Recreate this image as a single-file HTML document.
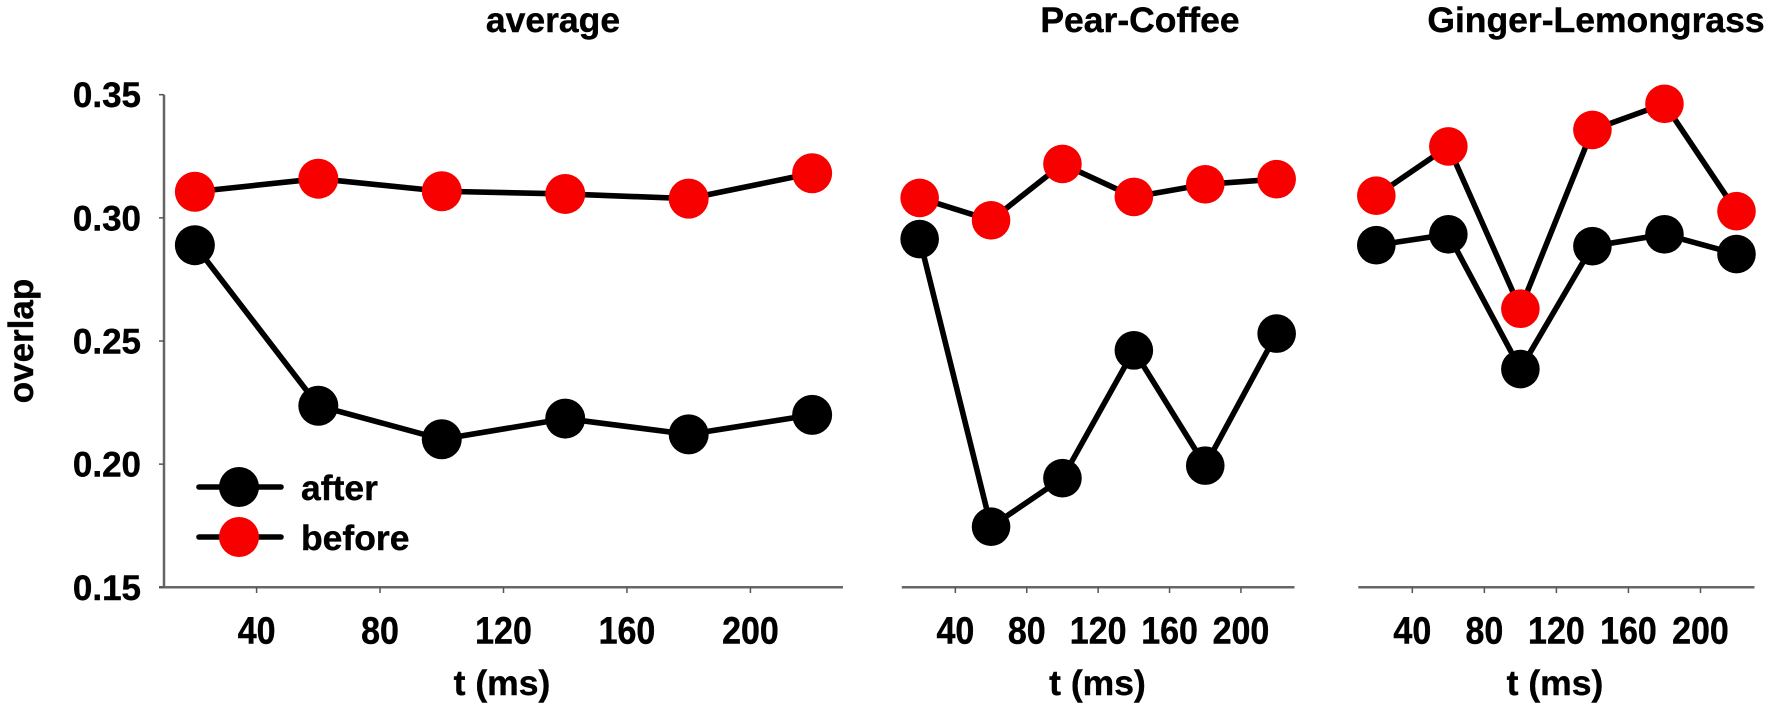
<!DOCTYPE html>
<html lang="en">
<head>
<meta charset="utf-8">
<title>Overlap before and after</title>
<style>
html,body{margin:0;padding:0;background:#fff;width:1772px;height:710px;overflow:hidden}
svg{display:block}
text{font-family:"Liberation Sans",Arial,sans-serif;font-weight:bold;fill:#000;stroke:#000;stroke-width:0.4px}
</style>
</head>
<body>
<svg id="chart" xmlns="http://www.w3.org/2000/svg" width="1772" height="710" viewBox="0 0 1772 710"></svg>
<script>
const times = [20, 60, 100, 140, 180, 220];
const xTicks = [40, 80, 120, 160, 200];
const yTicks = [0.15, 0.20, 0.25, 0.30, 0.35];
const yTickLabels = ["0.15", "0.20", "0.25", "0.30", "0.35"];
const panelTitles = ["average", "Pear-Coffee", "Ginger-Lemongrass"];
const averageAfter = [0.2889, 0.2237, 0.2101, 0.2185, 0.2121, 0.2200];
const averageBefore = [0.3106, 0.3159, 0.3108, 0.3097, 0.3078, 0.3181];
const pearAfter = [0.2914, 0.1746, 0.1943, 0.2462, 0.1994, 0.2530];
const pearBefore = [0.3081, 0.2990, 0.3219, 0.3085, 0.3136, 0.3157];
const gingerAfter = [0.2889, 0.2933, 0.2386, 0.2885, 0.2933, 0.2853];
const gingerBefore = [0.3090, 0.3290, 0.2631, 0.3357, 0.3463, 0.3027];

const svg = document.getElementById('chart');
const NS = 'http://www.w3.org/2000/svg';

function make(tag, attrs, parent, text) {
  const el = document.createElementNS(NS, tag);
  for (const k in attrs) el.setAttribute(k, attrs[k]);
  if (text !== undefined) el.textContent = text;
  parent.appendChild(el);
  return el;
}

const yScale = v => 587.3 - (v - 0.15) * (587.3 - 94.7) / 0.20;
const panelFrames = [
  {left: 164, right: 843, titleX: 553, labelX: 502, r: 20},
  {left: 901.8, right: 1294.5, titleX: 1140, labelX: 1097.5, r: 19.3},
  {left: 1358.3, right: 1754.5, titleX: 1596, labelX: 1555, r: 19.3}
];
const panelAfter = [averageAfter, pearAfter, gingerAfter];
const panelBefore = [averageBefore, pearBefore, gingerBefore];

function xScaleFor(frame) {
  return t => frame.left + (t - 10) * (frame.right - frame.left) / 220;
}

function drawSeries(group, xs, values, color, name, r) {
  const s = make('g', {}, group);
  
  
  const pts = values.map((v, i) => xs(times[i]) + ',' + yScale(v)).join(' ');
  const line = make('polyline', {points: pts, fill: 'none', stroke: '#000', 'stroke-width': 5.6, 'stroke-linejoin': 'round'}, s);
  
  
  values.forEach((v, i) => {
    const c = make('circle', {cx: xs(times[i]), cy: yScale(v), r: r, fill: color}, s);
    
    
  });
}

panelFrames.forEach((f, p) => {
  const g = make('g', {}, svg);
  
  
  const xs = xScaleFor(f);

  const title = make('text', {x: f.titleX, y: 32, 'text-anchor': 'middle', 'font-size': 35.5}, g, panelTitles[p]);
  
  

  const axis = make('line', {x1: f.left - (p === 0 ? 5 : 0), x2: f.right, y1: 587.3, y2: 587.3, stroke: '#666', 'stroke-width': 2.5}, g);
  
  

  xTicks.forEach(t => {
    const tick = make('line', {x1: xs(t), x2: xs(t), y1: 587.3, y2: 593, stroke: '#555', 'stroke-width': 1.5}, g);
    
    
    const lab = make('text', {x: 0, y: 0, 'text-anchor': 'middle', 'font-size': 34, transform: 'translate(' + xs(t) + ',643.5) scale(1,1.12)'}, g, String(t));
    
    
  });

  const xt = make('text', {x: f.labelX, y: 695, 'text-anchor': 'middle', 'font-size': 35.5}, g, 't (ms)');
  
  

  if (p === 0) {
    const ya = make('line', {x1: 164, x2: 164, y1: 94.7, y2: 587.3, stroke: '#666', 'stroke-width': 2.5}, g);
    
    
    yTicks.forEach((v, i) => {
      const tick = make('line', {x1: 159, x2: 164, y1: yScale(v), y2: yScale(v), stroke: '#555', 'stroke-width': 1.5}, g);
      
      
      const lab = make('text', {x: 141, y: yScale(v) + 12.5, 'text-anchor': 'end', 'font-size': 35}, g, yTickLabels[i]);
      
      
    });
    const yt = make('text', {x: 33, y: 341, 'text-anchor': 'middle', 'font-size': 35, transform: 'rotate(-90 33 341)'}, g, 'overlap');
    
    
  }

  drawSeries(g, xs, panelAfter[p], '#000', 'after', f.r);
  drawSeries(g, xs, panelBefore[p], '#f80000', 'before', f.r);
});

const legendNames = ['after', 'before'];
const legendColors = ['#000', '#f80000'];
legendNames.forEach((n, i) => {
  const y = 487 + i * 50;
  const g = make('g', {}, svg);
  
  
  make('line', {x1: 199, x2: 281, y1: y, y2: y, stroke: '#000', 'stroke-width': 5.6, 'stroke-linecap': 'round'}, g);
  make('circle', {cx: 239, cy: y, r: 20, fill: legendColors[i]}, g);
  make('text', {x: 301, y: y + 13, 'font-size': 35.5}, g, n);
});
</script>
</body>
</html>
